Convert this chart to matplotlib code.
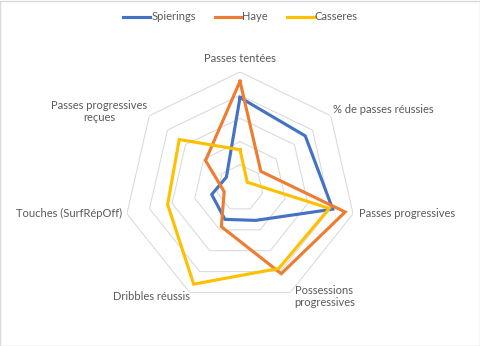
import numpy as np
import matplotlib
matplotlib.use("Agg")
import matplotlib.pyplot as plt
from matplotlib.patches import Rectangle

# Axis categories (clockwise from the top) and the three players' values (0-100 scale)
categories = ["Passes tentées", "% de passes réussies", "Passes progressives",
              "Possessions\nprogressives", "Dribbles réussis", "Touches (SurfRépOff)",
              "Passes progressives\nreçues"]
spierings = [78, 72, 82, 31, 30, 25, 15]
haye = [92, 23, 93, 82, 37, 14, 38]
casseres = [33, 8, 79, 77, 92, 64, 67]

series = [("Spierings", spierings, "#4472C4"),
          ("Haye", haye, "#ED7D31"),
          ("Casseres", casseres, "#FFC000")]

ring_levels = [20, 40, 60, 80, 100]

# label placement: (offset in pixels from the outer vertex, ha)
label_style = [((0, 14), "center"), ((2, 6), "left"), ((6, 0), "left"),
               ((34, -4), "center"), ((0, -4), "right"), ((-5, 0), "right"),
               ((-2, 4), "right")]

TEXT_COLOR = "#595959"
plt.rcParams["font.family"] = ["Lato", "DejaVu Sans"]

fig = plt.figure(figsize=(4.81, 3.46), dpi=100)
ax = fig.add_axes([0.2578, 0.1214, 0.4823, 0.6705], projection="polar")
ax.set_theta_zero_location("N")
ax.set_theta_direction(-1)

n = len(categories)
angles = np.linspace(0, 2 * np.pi, n, endpoint=False)
closed = np.append(angles, angles[0])

for level in ring_levels:
    ax.plot(closed, [level] * (n + 1), color="#D9D9D9", lw=0.75, zorder=1)

for name, values, color in series:
    ax.plot(closed, values + values[:1], color=color, lw=2.25, label=name,
            zorder=3, solid_joinstyle="miter")

for ang, label, ((dx, dy), ha) in zip(angles, categories, label_style):
    ax.annotate(label, xy=(ang, 100), xytext=(dx, dy), textcoords="offset pixels",
                ha=ha, va="center", multialignment="center", fontsize=8,
                color=TEXT_COLOR, linespacing=1.15)

ax.set_ylim(0, 100)
ax.set_xticks([])
ax.set_yticks([])
ax.grid(False)
ax.spines["polar"].set_visible(False)
ax.patch.set_visible(False)

fig.legend(loc="center", bbox_to_anchor=(0.5, 1 - 17 / 346), ncol=3, frameon=False,
           fontsize=8, handlelength=2.4, handletextpad=0.1, columnspacing=1.7,
           labelcolor=TEXT_COLOR)

fig.patches.append(Rectangle((0.001, 0.001), 0.997, 0.996, transform=fig.transFigure,
                             fill=False, edgecolor="#D9D9D9", lw=1))

fig.savefig("out.png", dpi=100)
